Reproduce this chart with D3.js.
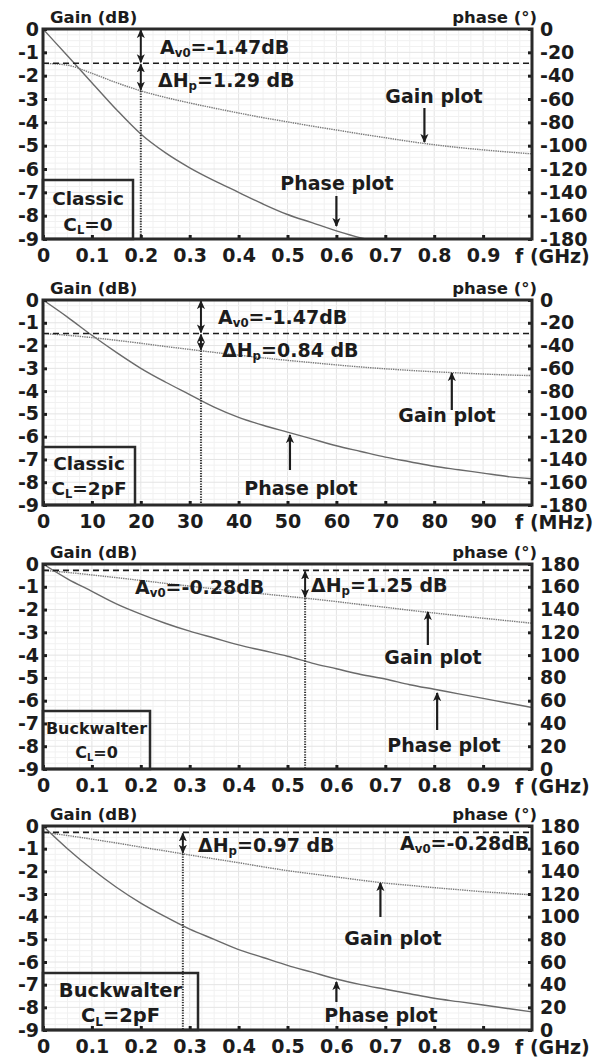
<!DOCTYPE html>
<html>
<head>
<meta charset="utf-8">
<script src="https://cdn.jsdelivr.net/npm/d3@7"></script>
<style>
  body { margin: 0; background: #fff; }
  svg text { font-family: "DejaVu Sans", sans-serif; font-weight: bold; fill: #1c1c1c; }
</style>
</head>
<body>
<script>
// ---- values ----
var gainTicks = [0, -1, -2, -3, -4, -5, -6, -7, -8, -9];
var ghzTicks = [0, 0.1, 0.2, 0.3, 0.4, 0.5, 0.6, 0.7, 0.8, 0.9];
var mhzTicks = [0, 10, 20, 30, 40, 50, 60, 70, 80, 90];
var negPhaseTicks = [0, -20, -40, -60, -80, -100, -120, -140, -160, -180];
var posPhaseTicks = [180, 160, 140, 120, 100, 80, 60, 40, 20, 0];

var freqGHz = [0, 0.05, 0.1, 0.15, 0.2, 0.25, 0.3, 0.35, 0.4, 0.45, 0.5, 0.55, 0.6, 0.65, 0.7, 0.75, 0.8, 0.85, 0.9, 0.95, 1.0];
var freqMHz = [0, 5, 10, 15, 20, 25, 30, 35, 40, 45, 50, 55, 60, 65, 70, 75, 80, 85, 90, 95, 100];

// Classic, CL=0
var classicGain = [-1.47, -1.55, -1.9, -2.3, -2.65, -2.93, -3.17, -3.39, -3.6, -3.8, -3.98, -4.16, -4.33, -4.5, -4.66, -4.82, -4.96, -5.08, -5.18, -5.27, -5.35];
var classicPhaseFreq = [0, 0.05, 0.1, 0.15, 0.2, 0.25, 0.3, 0.35, 0.4, 0.45, 0.5, 0.55, 0.6, 0.65, 0.66];
var classicPhase = [0, -23, -46, -69, -90, -106, -119, -130, -140, -150, -159, -166, -173, -179, -180];
// Classic, CL=2pF (MHz)
var classic2pGain = [-1.47, -1.55, -1.65, -1.77, -1.9, -2.04, -2.17, -2.3, -2.42, -2.54, -2.65, -2.75, -2.85, -2.94, -3.02, -3.09, -3.15, -3.2, -3.25, -3.29, -3.32];
var classic2pPhase = [0, -15, -31, -46, -60, -72, -83, -94, -103, -110, -116, -122, -128, -133, -138, -142, -146, -149, -152, -155, -157];
// Buckwalter, CL=0
var buckGain = [-0.28, -0.37, -0.48, -0.6, -0.72, -0.85, -0.97, -1.09, -1.2, -1.31, -1.42, -1.53, -1.65, -1.78, -1.9, -2.03, -2.15, -2.27, -2.38, -2.49, -2.6];
var buckPhase = [180, 167, 156, 145, 136, 128, 121, 115, 109, 104, 99, 93, 88, 83, 79, 74, 70, 66, 62, 58, 54];
// Buckwalter, CL=2pF
var buck2pGain = [-0.28, -0.42, -0.58, -0.75, -0.93, -1.1, -1.28, -1.45, -1.62, -1.8, -1.97, -2.11, -2.25, -2.39, -2.52, -2.62, -2.72, -2.81, -2.9, -2.97, -3.04];
var buck2pPhase = [180, 160, 142, 126, 112, 100, 89, 80, 71, 64, 57, 51, 45, 40, 36, 32, 28, 25, 22, 19, 16];

var av0Values = [-1.47, -1.47, -0.28, -0.28];
var deltaHp = [1.29, 0.84, 1.25, 0.97];
var markFreq = [0.2, 32.3, 0.536, 0.286];
var circuitNames = ["Classic", "Classic", "Buckwalter", "Buckwalter"];
var loadLabels = ["0", "2pF", "0", "2pF"];

// ---- layout ----
var svgWidth = 601, svgHeight = 1060;
var plotLeft = 43, plotRight = 532;
var ink = "#1c1c1c";

var panels = [
  { top: 29, bottom: 239, freq: freqGHz, gain: classicGain, phaseFreq: classicPhaseFreq, phase: classicPhase,
    xMax: 1, xTicks: ghzTicks, unit: "f (GHz)", phaseTicks: negPhaseTicks, phaseDomain: [-180, 0],
    av0Text: { x: 160, y: 18 }, dhText: { x: 158, y: 51 }, topArrow: true,
    gainLabel: { x: 434, y: 67 }, gainArrow: { f: 0.78, y0: 79, y1: 113 },
    phaseLabel: { x: 337, y: 154 }, phaseArrow: { f: 0.6, y0: 167, y1: 197 },
    box: { w: 90, y: 151, t1: 169, t2: 195, size: 18.5 } },
  { top: 300, bottom: 505, freq: freqMHz, gain: classic2pGain, phaseFreq: freqMHz, phase: classic2pPhase,
    xMax: 100, xTicks: mhzTicks, unit: "f (MHz)", phaseTicks: negPhaseTicks, phaseDomain: [-180, 0],
    av0Text: { x: 218, y: 17 }, dhText: { x: 222, y: 50 }, topArrow: true,
    gainLabel: { x: 447, y: 115 }, gainArrow: { f: 83.6, y0: 110, y1: 73 },
    phaseLabel: { x: 301, y: 188 }, phaseArrow: { f: 50.5, y0: 170, y1: 135 },
    box: { w: 92, y: 147, t1: 163, t2: 188, size: 18.5 } },
  { top: 564, bottom: 769, freq: freqGHz, gain: buckGain, phaseFreq: freqGHz, phase: buckPhase,
    xMax: 1, xTicks: ghzTicks, unit: "f (GHz)", phaseTicks: posPhaseTicks, phaseDomain: [0, 180],
    av0Text: { x: 135, y: 23 }, dhText: { x: 311, y: 21 }, topArrow: false,
    gainLabel: { x: 433, y: 93 }, gainArrow: { f: 0.787, y0: 81, y1: 48 },
    phaseLabel: { x: 444, y: 181 }, phaseArrow: { f: 0.806, y0: 166, y1: 129 },
    box: { w: 107, y: 147, t1: 164, t2: 188, size: 16 } },
  { top: 826, bottom: 1030, freq: freqGHz, gain: buck2pGain, phaseFreq: freqGHz, phase: buck2pPhase,
    xMax: 1, xTicks: ghzTicks, unit: "f (GHz)", phaseTicks: posPhaseTicks, phaseDomain: [0, 180],
    av0Text: { x: 400, y: 17 }, dhText: { x: 198, y: 19 }, topArrow: false,
    gainLabel: { x: 393, y: 112 }, gainArrow: { f: 0.69, y0: 91, y1: 57 },
    phaseLabel: { x: 381, y: 189 }, phaseArrow: { f: 0.6, y0: 176, y1: 156 },
    box: { w: 155, y: 147, t1: 164, t2: 189, size: 19.5 } }
];

var svg = d3.select("body").append("svg")
  .attr("width", svgWidth)
  .attr("height", svgHeight);

var defs = svg.append("defs");
defs.append("marker")
  .attr("id", "head")
  .attr("viewBox", "0 0 10 10")
  .attr("refX", 9).attr("refY", 5)
  .attr("markerWidth", 9).attr("markerHeight", 9)
  .attr("markerUnits", "userSpaceOnUse")
  .attr("orient", "auto-start-reverse")
  .append("path")
  .attr("d", "M0,0.5 L10,5 L0,9.5 L2.5,5 z")
  .attr("fill", ink);

// linear interpolation inside a series
function valueAt(xs, ys, f) {
  var i = d3.bisectRight(xs, f);
  if (i <= 0) return ys[0];
  if (i >= xs.length) return ys[ys.length - 1];
  var t = (f - xs[i - 1]) / (xs[i] - xs[i - 1]);
  return ys[i - 1] + t * (ys[i] - ys[i - 1]);
}

// subscripted label: base, sub, rest
function subText(sel, base, sub, rest) {
  sel.append("tspan").text(base);
  sel.append("tspan").attr("font-size", "0.62em").attr("dy", "0.3em").text(sub);
  sel.append("tspan").attr("dy", "-0.19em").text(rest);
}

panels.forEach(function (p, k) {
  var g = svg.append("g");

  var x = d3.scaleLinear().domain([0, p.xMax]).range([plotLeft, plotRight]);
  var y = d3.scaleLinear().domain([-9, 0]).range([p.bottom, p.top]);
  var yPhase = d3.scaleLinear().domain(p.phaseDomain).range([p.bottom, p.top]);

  var clipId = "clip" + k;
  defs.append("clipPath").attr("id", clipId)
    .append("rect")
    .attr("x", plotLeft).attr("y", p.top)
    .attr("width", plotRight - plotLeft).attr("height", p.bottom - p.top);

  // faint grid
  var grid = g.append("g").attr("stroke-width", 1);
  d3.range(0, p.xMax + 1e-9, p.xMax / 40).forEach(function (v, i) {
    grid.append("line")
      .attr("x1", x(v)).attr("x2", x(v)).attr("y1", p.top).attr("y2", p.bottom)
      .attr("stroke", i % 4 === 0 ? "#e4e4e4" : "#f1f1f1");
  });
  d3.range(-9, 0.001, 0.25).forEach(function (v, i) {
    grid.append("line")
      .attr("x1", plotLeft).attr("x2", plotRight).attr("y1", y(v)).attr("y2", y(v))
      .attr("stroke", i % 4 === 0 ? "#e4e4e4" : "#f1f1f1");
  });

  // curves
  var curves = g.append("g").attr("clip-path", "url(#" + clipId + ")");
  var gainLine = d3.line()
    .x(function (d, i) { return x(p.freq[i]); })
    .y(function (d) { return y(d); })
    .curve(d3.curveMonotoneX);
  var phaseLine = d3.line()
    .x(function (d, i) { return x(p.phaseFreq[i]); })
    .y(function (d) { return yPhase(d); })
    .curve(d3.curveMonotoneX);

  curves.append("path")
    .attr("d", phaseLine(p.phase))
    .attr("fill", "none").attr("stroke", "#6a6a6a").attr("stroke-width", 1.4);
  curves.append("path")
    .attr("d", gainLine(p.gain))
    .attr("fill", "none").attr("stroke", "#7a7a7a").attr("stroke-width", 1.4)
    .attr("stroke-dasharray", "1.4,0.9");

  // A_v0 reference line
  g.append("line")
    .attr("x1", plotLeft).attr("x2", plotRight)
    .attr("y1", y(av0Values[k])).attr("y2", y(av0Values[k]))
    .attr("stroke", ink).attr("stroke-width", 1.6).attr("stroke-dasharray", "6,4");

  // marker at the -dHp point
  var gMark = valueAt(p.freq, p.gain, markFreq[k]);
  g.append("line")
    .attr("x1", x(markFreq[k])).attr("x2", x(markFreq[k]))
    .attr("y1", y(gMark)).attr("y2", p.bottom)
    .attr("stroke", "#333").attr("stroke-width", 2).attr("stroke-dasharray", "1.3,1.3");

  function dblArrow(xv, y0, y1) {
    g.append("line")
      .attr("x1", xv).attr("x2", xv).attr("y1", y0).attr("y2", y1)
      .attr("stroke", ink).attr("stroke-width", 2)
      .attr("marker-start", "url(#head)").attr("marker-end", "url(#head)");
  }
  if (p.topArrow) dblArrow(x(markFreq[k]), y(0) + 1, y(av0Values[k]) - 1);
  dblArrow(x(markFreq[k]), y(av0Values[k]) + 1, y(gMark) - 1);

  // annotation texts
  subText(g.append("text").attr("x", p.av0Text.x).attr("y", p.top + p.av0Text.y)
    .attr("dy", "0.36em").attr("font-size", 19), "A", "v0", "=" + av0Values[k].toFixed(2) + "dB");
  subText(g.append("text").attr("x", p.dhText.x).attr("y", p.top + p.dhText.y)
    .attr("dy", "0.36em").attr("font-size", 19), "\u0394H", "p", "=" + deltaHp[k].toFixed(2) + " dB");

  g.append("text").attr("x", p.gainLabel.x).attr("y", p.top + p.gainLabel.y)
    .attr("dy", "0.36em").attr("text-anchor", "middle").attr("font-size", 19).text("Gain plot");
  g.append("text").attr("x", p.phaseLabel.x).attr("y", p.top + p.phaseLabel.y)
    .attr("dy", "0.36em").attr("text-anchor", "middle").attr("font-size", 19).text("Phase plot");

  [p.gainArrow, p.phaseArrow].forEach(function (a) {
    g.append("line")
      .attr("x1", x(a.f)).attr("x2", x(a.f))
      .attr("y1", p.top + a.y0).attr("y2", p.top + a.y1)
      .attr("stroke", ink).attr("stroke-width", 2.2)
      .attr("marker-end", "url(#head)");
  });

  // circuit box
  g.append("rect")
    .attr("x", plotLeft).attr("y", p.top + p.box.y)
    .attr("width", p.box.w).attr("height", p.bottom - p.top - p.box.y)
    .attr("fill", "none").attr("stroke", "#2a2a2a").attr("stroke-width", 2.5);
  g.append("text").attr("x", plotLeft + p.box.w / 2).attr("y", p.top + p.box.t1)
    .attr("dy", "0.36em").attr("text-anchor", "middle").attr("font-size", p.box.size)
    .text(circuitNames[k]);
  subText(g.append("text").attr("x", plotLeft + p.box.w / 2).attr("y", p.top + p.box.t2)
    .attr("dy", "0.36em").attr("text-anchor", "middle").attr("font-size", p.box.size),
    "C", "L", "=" + loadLabels[k]);

  // axes
  function styleAxis(ax) {
    ax.attr("font-family", null).attr("font-size", 19);
    ax.select(".domain").remove();
    ax.selectAll(".tick line").attr("stroke", ink).attr("stroke-width", 3);
    ax.selectAll(".tick text").attr("fill", ink);
  }
  var left = g.append("g")
    .attr("transform", "translate(" + plotLeft + ",0)")
    .call(d3.axisLeft(y).tickValues(gainTicks).tickSize(-4).tickPadding(4)
      .tickFormat(function (d) { return String(d); }));
  styleAxis(left);

  var right = g.append("g")
    .attr("transform", "translate(" + plotRight + ",0)")
    .call(d3.axisRight(yPhase).tickValues(p.phaseTicks).tickSize(-4).tickPadding(8)
      .tickFormat(function (d) { return String(d); }));
  styleAxis(right);

  var bottom = g.append("g")
    .attr("transform", "translate(0," + p.bottom + ")")
    .call(d3.axisBottom(x).tickValues(p.xTicks).tickSize(-4).tickPadding(10)
      .tickFormat(function (d) { return String(d); }));
  styleAxis(bottom);

  // frame
  g.append("path")
    .attr("d", "M" + plotLeft + "," + p.bottom + "V" + p.top + "H" + plotRight + "V" + p.bottom + "Z")
    .attr("fill", "none").attr("stroke", "#2a2a2a").attr("stroke-width", 3);

  // axis titles
  g.append("text").attr("x", 50).attr("y", p.top - 12)
    .attr("dy", "0.36em").attr("font-size", 16.5).text("Gain (dB)");
  g.append("text").attr("x", 537).attr("y", p.top - 12)
    .attr("dy", "0.36em").attr("text-anchor", "end").attr("font-size", 16.5).text("phase (\u00b0)");
  g.append("text").attr("x", 515).attr("y", p.bottom + 17)
    .attr("dy", "0.36em").attr("font-size", 19).text(p.unit);
});
</script>
</body>
</html>
